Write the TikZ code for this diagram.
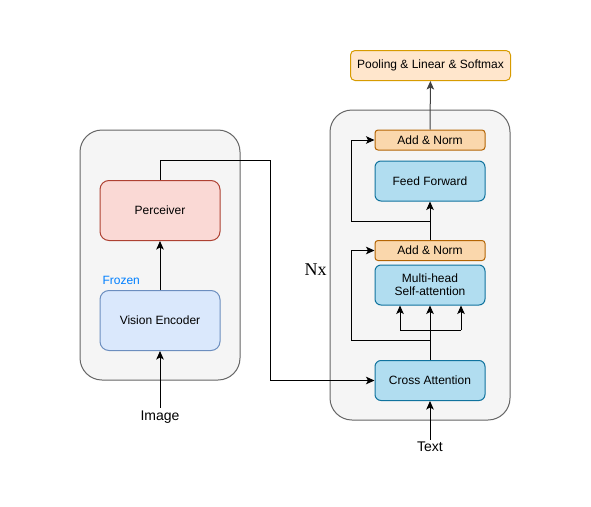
\documentclass[tikz,border=0pt]{standalone}
\usepackage{fontspec}
\setmainfont{Liberation Sans}
\newfontfamily\nxfont{Liberation Serif}
\usetikzlibrary{arrows.meta}

\definecolor{frameF}{HTML}{F5F5F5}
\definecolor{frameD}{HTML}{666666}
\definecolor{redF}{HTML}{FAD9D5}
\definecolor{redD}{HTML}{AE4132}
\definecolor{visF}{HTML}{DAE8FC}
\definecolor{visD}{HTML}{6C8EBF}
\definecolor{poolF}{HTML}{FFE6CC}
\definecolor{poolD}{HTML}{D79B00}
\definecolor{normF}{HTML}{FAD7AC}
\definecolor{normD}{HTML}{B46504}
\definecolor{attF}{HTML}{B1DDF0}
\definecolor{attD}{HTML}{10739E}
\definecolor{frozenC}{HTML}{007FFF}

\begin{document}
\begin{tikzpicture}[x=1pt,y=-1pt,>={Stealth[length=8.5pt,width=7.5pt,inset=2pt]},line width=1pt,
    frame/.style={draw=frameD,fill=frameF,rounded corners=22pt},
    blk/.style={draw,rounded corners=#1,font=\fontsize{12}{14}\selectfont,align=center,inner sep=0pt},
    redblk/.style={blk=9pt,draw=redD,fill=redF,minimum width=120pt,minimum height=60pt},
    visblk/.style={blk=9pt,draw=visD,fill=visF,minimum width=120pt,minimum height=60pt},
    poolblk/.style={blk=4.5pt,draw=poolD,fill=poolF,minimum width=160pt,minimum height=30pt},
    normblk/.style={blk=3pt,draw=normD,fill=normF,minimum width=110pt,minimum height=20pt},
    attblk/.style={blk=6pt,draw=attD,fill=attF,minimum width=110pt,minimum height=40pt},
    lbl/.style={font=\fontsize{14}{16}\selectfont,inner sep=0pt}]
        \useasboundingbox (0,0) rectangle (591,506);
        % containers
        \node[frame,minimum width=160pt,minimum height=250pt](left)at(160, 255){};
        \node[frame,minimum width=180pt,minimum height=310pt](right)at(420, 265){};
        % vision side
        \node[redblk](perc)at(160, 210.5){Perceiver};
        \node[visblk](venc)at(160, 320.5){Vision Encoder};
        \node[anchor=west,inner sep=0pt,text=frozenC,font=\fontsize{12}{14}\selectfont](frozen)at(102, 280){Frozen};
        \node[lbl,outer sep=3pt](img)at(160, 417){Image};
        % text side
        \node[poolblk](pool)at(430.5, 65.5){Pooling \& Linear \& Softmax};
        \node[normblk](norm2)at(430, 140){Add \& Norm};
        \node[attblk](ff)at(430, 181){Feed Forward};
        \node[normblk](norm1)at(430, 250.5){Add \& Norm};
        \node[attblk](mha)at(430, 285){Multi-head\\[-1pt]Self-attention};
        \node[attblk](cross)at(430, 380.5){Cross Attention};
        \node[lbl,outer sep=2pt](txt)at(430, 446.5){Text};
        \node[inner sep=0pt,font=\nxfont\fontsize{18}{20}\selectfont](nx)at(315.5, 270){Nx};
        % turning points
        \coordinate (turn)at(270, 160);
        \coordinate (fork1)at(430, 340);
        \coordinate (skip1)at(351, 340);
        \coordinate (qk)at(400, 330);
        \coordinate (v)at(461, 330);
        \coordinate (fork2)at(430, 221);
        \coordinate (skip2)at(351, 221);
        % connectors
        \draw[->](img) -- (venc);
        \draw[->](venc) -- (perc);
        \draw[->](perc.north) |- (turn) |- (cross.west);
        \draw[->](txt) -- (cross);
        \draw[->](cross) -- (mha);
        \draw (qk) -- (v);
        \draw[->](qk) -- (qk |- mha.south);
        \draw[->](v) -- (v |- mha.south);
        \draw[->](fork1) -- (skip1) |- (norm1.west);
        \draw[->](norm1) -- (ff);
        \draw[->](fork2) -- (skip2) |- (norm2.west);
        \draw[->,draw=black!75](norm2) -- (pool);
\end{tikzpicture}
\end{document}
